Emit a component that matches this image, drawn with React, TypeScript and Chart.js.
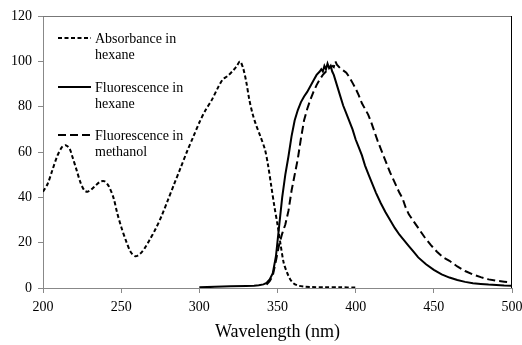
import { useEffect, useRef } from "react";
import { Chart, registerables } from "chart.js";

Chart.register(...registerables);

const absWavelength = [200, 203, 206, 209, 212, 214.5, 217, 219, 221.5, 224, 226.5, 228.5, 231, 234, 237, 239.5, 242, 245, 247.5, 250, 253, 256, 259, 262, 265, 268, 272, 276, 280, 284, 288, 292, 296, 300, 304, 308, 312, 315, 318, 321, 324, 326, 328, 330, 332, 334, 336, 339, 342, 344, 346, 348, 350, 352, 354, 356, 358, 360, 363, 367, 372, 380, 390, 400];
const absValues = [42.5, 46, 52, 58, 62, 63, 61.5, 57.5, 52, 46.5, 43, 42.5, 43.5, 45.5, 47, 47, 45, 40, 33, 27, 21, 16, 14, 15, 17.5, 21, 26, 32, 39, 46, 53, 60, 66.5, 73, 78.5, 83, 88.5, 92, 93.5, 95.5, 98, 100, 97, 91, 83, 77, 72.5, 67, 61, 54, 45, 36, 28, 19, 11, 7, 4, 2.2, 1.1, 0.6, 0.4, 0.3, 0.3, 0.2];

const hexWavelength = [300, 310, 320, 330, 335, 338, 341, 343, 345, 347, 349, 351, 353, 355, 357, 359, 361, 363, 365, 367, 369, 371, 373, 375, 377, 378, 379, 380, 381, 382, 383, 384, 385, 386, 388, 390, 392, 394, 396, 398, 400, 402, 404, 406, 408, 410, 413, 416, 419, 422, 425, 428, 431, 434, 437, 440, 445, 450, 455, 460, 465, 470, 475, 480, 485, 490, 495, 500];
const hexValues = [0.3, 0.5, 0.8, 0.9, 1.0, 1.2, 1.6, 2.2, 3.8, 6.5, 14, 27, 40, 50, 58, 67, 74, 78.5, 82, 84.5, 86.5, 89, 91.5, 94, 95.5, 96.5, 95.5, 98, 96.5, 99, 97, 98, 95.5, 94, 89.5, 85, 80.5, 77, 73.5, 70, 65.5, 62, 58.5, 54, 50.5, 47, 42, 37.5, 33.5, 30, 26.5, 23.5, 21, 18.5, 16, 13.5, 10.5, 8, 6, 4.6, 3.5, 2.7, 2.1, 1.8, 1.5, 1.3, 1.1, 1.0];

const metWavelength = [343, 345, 347, 349, 351, 353, 355, 357, 359, 361, 363, 365, 367, 369, 371, 373, 375, 377, 379, 381, 383, 385, 386, 387, 388, 390, 392, 394, 396, 398, 400, 402, 404, 406, 408, 410, 412, 414, 416, 418, 420, 422, 424, 426, 428, 430, 432, 434, 437, 440, 444, 448, 452, 456, 460, 465, 470, 475, 480, 485, 490, 495, 500];
const metValues = [1.5, 3, 5.5, 12, 19, 24, 28, 34, 43, 50, 57, 66, 74, 79, 83, 86.5, 89.5, 92, 94, 95.5, 97, 98, 97.5, 100, 98.5, 97, 96, 95, 93, 90.5, 88, 85, 81.5, 79, 76.5, 73, 69, 65, 61.5, 58, 54.5, 51, 48, 45, 42, 39.5, 35.5, 32.5, 29.5, 26.5, 22.5, 19, 16, 13.5, 12, 9.5, 7.5, 6, 4.8, 3.8, 3.2, 2.8, 2.4];

const seriesLabels = [["Absorbance in", "hexane"], ["Fluorescence in", "hexane"], ["Fluorescence in", "methanol"]];
const axisTitle = "Wavelength (nm)";

const FONT = "'Liberation Serif', 'Times New Roman', serif";

function toPoints(xs: number[], ys: number[]) {
  return xs.map((x, i) => ({ x, y: ys[i] }));
}

export default function App() {
  const ref = useRef<HTMLCanvasElement>(null);
  useEffect(() => {
    if (!ref.current) return;
    const dashes = [[4, 2.5], [], [8, 4]];
    const legendPlugin = {
      id: "customLegend",
      afterDraw(chart: any) {
        const ctx = chart.ctx as CanvasRenderingContext2D;
        ctx.save();
        const lineY = [38, 87, 135];
        seriesLabels.forEach((lines, i) => {
          ctx.beginPath();
          ctx.setLineDash(dashes[i]);
          ctx.lineWidth = 2;
          ctx.strokeStyle = "#000";
          ctx.moveTo(58, lineY[i]);
          ctx.lineTo(91, lineY[i]);
          ctx.stroke();
          ctx.setLineDash([]);
          ctx.fillStyle = "#000";
          ctx.font = `14px ${FONT}`;
          ctx.textBaseline = "middle";
          ctx.textAlign = "left";
          lines.forEach((t, j) => ctx.fillText(t, 95, lineY[i] + 1 + j * 16));
        });
        ctx.restore();
      },
    };
    const framePlugin = {
      id: "frame",
      afterDraw(chart: any) {
        const { ctx, chartArea } = chart;
        ctx.save();
        ctx.lineWidth = 1;
        ctx.strokeStyle = "#777";
        ctx.beginPath();
        ctx.moveTo(chartArea.left, chartArea.top + 0.5);
        ctx.lineTo(chartArea.right, chartArea.top + 0.5);
        ctx.stroke();
        ctx.strokeStyle = "#000";
        ctx.beginPath();
        ctx.moveTo(chartArea.right - 0.5, chartArea.top);
        ctx.lineTo(chartArea.right - 0.5, chartArea.bottom);
        ctx.stroke();
        ctx.restore();
      },
    };
    const chart = new Chart(ref.current, {
      type: "scatter",
      data: {
        datasets: [
          {
            label: seriesLabels[0].join(" "),
            data: toPoints(absWavelength, absValues),
            showLine: true,
            borderColor: "#000",
            borderWidth: 2,
            borderDash: dashes[0],
            pointRadius: 0,
            tension: 0.3,
          },
          {
            label: seriesLabels[1].join(" "),
            data: toPoints(hexWavelength, hexValues),
            showLine: true,
            borderColor: "#000",
            borderWidth: 2,
            pointRadius: 0,
            tension: 0,
          },
          {
            label: seriesLabels[2].join(" "),
            data: toPoints(metWavelength, metValues),
            showLine: true,
            borderColor: "#000",
            borderWidth: 2,
            borderDash: dashes[2],
            pointRadius: 0,
            tension: 0,
          },
        ],
      },
      options: {
        animation: false,
        responsive: false,
        layout: { padding: { top: 16, right: 10, left: 0, bottom: 0 } },
        plugins: { legend: { display: false }, tooltip: { enabled: false } },
        scales: {
          x: {
            type: "linear",
            min: 200,
            max: 500,
            ticks: { stepSize: 50, color: "#000", font: { family: FONT, size: 14 }, padding: 6 },
            grid: { drawOnChartArea: false, drawTicks: true, tickLength: 5, color: "#888" },
            border: { color: "#888" },
            title: { display: true, text: axisTitle, color: "#000", font: { family: FONT, size: 18 }, padding: { top: 2, bottom: 2 } },
            afterFit(s: any) { s.height = 57; s.paddingRight = 0; s.paddingLeft = 0; },
          },
          y: {
            min: 0,
            max: 120,
            ticks: { stepSize: 20, color: "#000", font: { family: FONT, size: 14 }, padding: 6 },
            grid: { drawOnChartArea: false, drawTicks: true, tickLength: 5, color: "#888" },
            border: { color: "#888" },
            afterFit(s: any) { s.width = 43; s.paddingTop = 0; s.paddingBottom = 0; },
          },
        },
      },
      plugins: [framePlugin, legendPlugin],
    } as any);
    return () => chart.destroy();
  }, []);
  return (
    <div style={{ position: "fixed", left: 0, top: 0, width: 522, height: 345, background: "#fff" }}>
      <canvas ref={ref} width={522} height={345} />
    </div>
  );
}
